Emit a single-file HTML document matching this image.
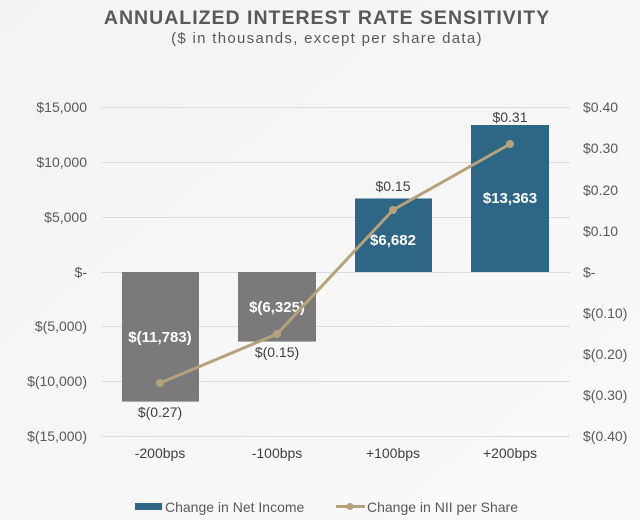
<!DOCTYPE html>
<html><head><meta charset="utf-8"><style>
html,body{margin:0;padding:0;background:#f7f7f7}
svg{display:block;font-family:"Liberation Sans",Arial,sans-serif}
</style></head><body>
<svg width="640" height="520" viewBox="0 0 640 520">
<defs><linearGradient id="bg" x1="0" y1="0" x2="1" y2="1"><stop offset="0" stop-color="#f3f3f3"/><stop offset="1" stop-color="#fafafa"/></linearGradient></defs>
<rect width="640" height="520" fill="url(#bg)"/>
<text x="327" y="24" text-anchor="middle" font-size="19.5" font-weight="bold" fill="#595959" letter-spacing="1">ANNUALIZED INTEREST RATE SENSITIVITY</text>
<text x="327" y="43" text-anchor="middle" font-size="15" fill="#595959" letter-spacing="1.3">($ in thousands, except per share data)</text>
<g stroke="#dcdcdc" stroke-width="1">
<line x1="102" x2="570" y1="107.5" y2="107.5"/><line x1="102" x2="570" y1="162.5" y2="162.5"/>
<line x1="102" x2="570" y1="217.5" y2="217.5"/><line x1="102" x2="570" y1="272.5" y2="272.5"/>
<line x1="102" x2="570" y1="326.5" y2="326.5"/><line x1="102" x2="570" y1="381.5" y2="381.5"/>
<line x1="102" x2="570" y1="436.5" y2="436.5"/>
</g>
<g font-size="14" fill="#595959" text-anchor="end">
<text x="87" y="112">$15,000</text><text x="87" y="167">$10,000</text><text x="87" y="222">$5,000</text>
<text x="87" y="277">$-</text><text x="87" y="331">$(5,000)</text><text x="87" y="386">$(10,000)</text><text x="87" y="441">$(15,000)</text>
</g>
<g font-size="14" fill="#595959">
<text x="583" y="112">$0.40</text><text x="583" y="153">$0.30</text><text x="583" y="195">$0.20</text><text x="583" y="236">$0.10</text>
<text x="583" y="277">$-</text><text x="583" y="318">$(0.10)</text><text x="583" y="359">$(0.20)</text><text x="583" y="400">$(0.30)</text><text x="583" y="441">$(0.40)</text>
</g>
<rect x="122" y="272" width="77" height="129.6" fill="#7a7a7a"/>
<rect x="238" y="272" width="78" height="69.6" fill="#7a7a7a"/>
<rect x="355" y="198.5" width="77" height="73.5" fill="#2e6686"/>
<rect x="471" y="125" width="78" height="147" fill="#2e6686"/>
<g font-size="15" font-weight="bold" fill="#fff" text-anchor="middle">
<text x="160" y="342">$(11,783)</text><text x="277" y="312">$(6,325)</text>
<text x="393" y="245">$6,682</text><text x="510" y="203">$13,363</text>
</g>
<polyline points="160,383 277,334 393,210 510,144" fill="none" stroke="#b5a27a" stroke-width="3"/>
<g fill="#b5a27a"><circle cx="160" cy="383" r="4"/><circle cx="277" cy="334" r="4"/><circle cx="393" cy="210" r="4"/><circle cx="510" cy="144" r="4"/></g>
<g font-size="14" fill="#404040" text-anchor="middle">
<text x="160" y="417">$(0.27)</text><text x="277" y="357">$(0.15)</text>
<text x="393" y="191">$0.15</text><text x="510" y="122">$0.31</text>
</g>
<g font-size="14" fill="#404040" text-anchor="middle">
<text x="160" y="458">-200bps</text><text x="277" y="458">-100bps</text><text x="393" y="458">+100bps</text><text x="510" y="458">+200bps</text>
</g>
<rect x="135" y="503" width="27" height="7" fill="#2e6686"/>
<text x="165" y="512" font-size="14" fill="#595959">Change in Net Income</text>
<line x1="336" x2="365" y1="506.5" y2="506.5" stroke="#b5a27a" stroke-width="3"/>
<circle cx="350" cy="506.5" r="3.5" fill="#b5a27a"/>
<text x="367" y="512" font-size="14" fill="#595959">Change in NII per Share</text>
</svg>
</body></html>
